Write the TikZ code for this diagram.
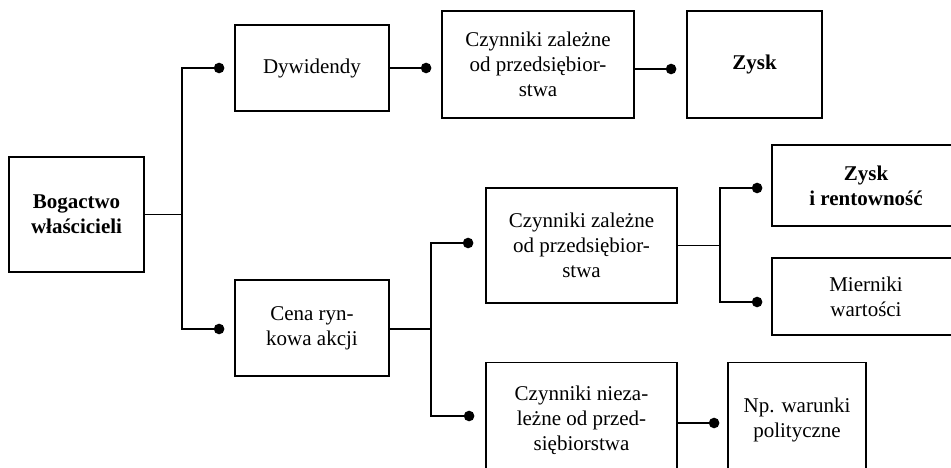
\documentclass[tikz,border=0pt]{standalone}
\usepackage{fontspec}
\setmainfont{Liberation Serif}
\usetikzlibrary{arrows.meta}
\begin{document}
\begin{tikzpicture}[x=1pt,y=-1pt,
  box/.style={draw=black,line width=1.3pt,rectangle,align=center,inner sep=0pt,
    font=\fontsize{21}{25}\selectfont},
  bbox/.style={box,font=\fontsize{21}{25}\selectfont\bfseries},
  conn/.style={line width=1.3pt,-{Circle[length=10.5pt,width=10.5pt]}},
  plain/.style={line width=1.3pt}]
\clip (0,0) rectangle (951,468);
\fill[white] (0,0) rectangle (951,468);
% boxes
\node[bbox,minimum width=135pt,minimum height=115pt] (bog) at (76.5,214.5) {Bogactwo\\właścicieli};
\node[box,minimum width=154pt,minimum height=86pt] (dyw) at (312,68) {Dywidendy};
\node[box,minimum width=192pt,minimum height=107pt] (cz1) at (538,64.5) {Czynniki zależne\\od przedsiębior-\\stwa};
\node[bbox,minimum width=135pt,minimum height=107pt] (zysk) at (754.5,64.5) {Zysk};
\node[box,minimum width=154pt,minimum height=96pt] (cena) at (312,328) {Cena ryn-\\kowa akcji};
\node[box,minimum width=191pt,minimum height=115pt] (cz2) at (581.5,245.5) {Czynniki zależne\\od przedsiębior-\\stwa};
\node[bbox,minimum width=188pt,minimum height=81pt] (zr) at (866,185.5) {Zysk\\i rentowność};
\node[box,minimum width=188pt,minimum height=77pt] (mier) at (866,296.5) {Mierniki\\wartości};
\node[box,minimum width=191pt,minimum height=115pt] (cz3) at (581.5,420) {Czynniki nieza-\\leżne od przed-\\siębiorstwa};
\node[box,minimum width=138pt,minimum height=115pt] (np) at (797,420) {Np. warunki\\polityczne};
% trunk positions
\coordinate (t1) at (182,0);
\coordinate (t2) at (431,0);
\coordinate (t3) at (720,0);
% connectors
\draw[conn] (bog.east) -- (bog.east -| t1) |- ([xshift=-10pt]dyw.west);
\draw[conn] (bog.east -| t1) |- ([xshift=-10pt,yshift=-1pt]cena.west);
\draw[conn] (dyw.east) -- ([xshift=-10pt,yshift=-3.5pt]cz1.west);
\draw[conn] ([yshift=-4.5pt]cz1.east) -- ([xshift=-10pt,yshift=-4.5pt]zysk.west);
\draw[conn] ([yshift=-1pt]cena.east) -- ([yshift=-1pt]cena.east -| t2) |- ([xshift=-12pt,yshift=2.5pt]cz2.west);
\draw[conn] ([yshift=-1pt]cena.east -| t2) |- ([xshift=-11pt,yshift=4pt]cz3.west);
\draw[conn] (cz2.east) -- (cz2.east -| t3) |- ([xshift=-9pt,yshift=-2.5pt]zr.west);
\draw[conn] (cz2.east -| t3) |- ([xshift=-9pt,yshift=-5.5pt]mier.west);
\draw[conn] ([yshift=-3pt]cz3.east) -- ([xshift=-8pt,yshift=-3pt]np.west);
\end{tikzpicture}
\end{document}
